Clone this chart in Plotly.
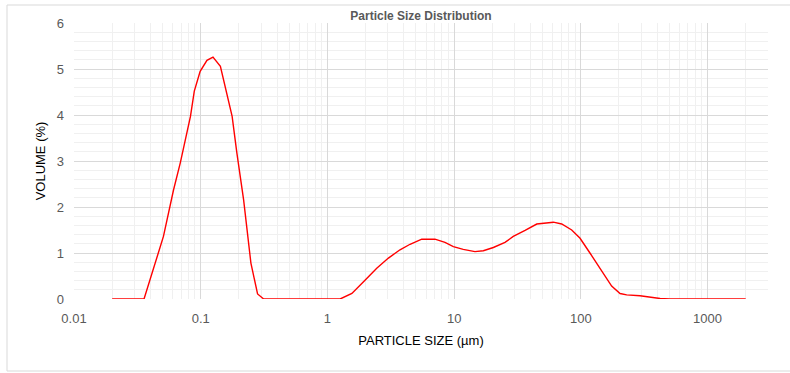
import plotly.graph_objects as go
import math

# Data
particle_size_um = [
    0.020, 0.0357, 0.0508, 0.061, 0.069, 0.083, 0.089, 0.099, 0.112, 0.125,
    0.143, 0.159, 0.177, 0.193, 0.218, 0.249, 0.281, 0.314,
    1.26, 1.56, 1.79, 1.98, 2.45, 3.03, 3.74, 4.49, 5.55, 7.06, 8.47, 9.86,
    11.8, 14.6, 17.0, 20.4, 25.2, 29.3, 36.3, 44.9, 60.7, 70.6, 84.7, 98.6,
    118, 142, 175, 204, 230, 293, 422, 500, 2000,
]
volume_pct = [
    0.0, 0.0, 1.36, 2.37, 2.96, 3.97, 4.52, 4.95, 5.19, 5.26,
    5.06, 4.55, 3.97, 3.17, 2.16, 0.78, 0.11, 0.0,
    0.0, 0.12, 0.30, 0.41, 0.67, 0.89, 1.07, 1.19, 1.30, 1.30, 1.23, 1.14,
    1.08, 1.03, 1.05, 1.12, 1.23, 1.36, 1.49, 1.63, 1.67, 1.63, 1.50, 1.32,
    1.00, 0.67, 0.28, 0.12, 0.09, 0.07, 0.01, 0.0, 0.0,
]
x_tick_vals = [0.01, 0.1, 1, 10, 100, 1000]
x_tick_text = ["0.01", "0.1", "1", "10", "100", "1000"]
y_tick_vals = [0, 1, 2, 3, 4, 5, 6]

title_text = "Particle Size Distribution"
x_title = "PARTICLE SIZE (µm)"
y_title = "VOLUME (%)"

FONT = "Liberation Sans"
GRID_MAJOR = "#d9d9d9"
GRID_MINOR = "#f0f0f0"

minor_x = [m * 10 ** e for e in range(-2, 4) for m in range(2, 10) if m * 10 ** e <= 3000]

fig = go.Figure()
fig.add_trace(go.Scatter(
    x=particle_size_um, y=volume_pct, mode="lines",
    line=dict(color="#ff0000", width=1.4),
    showlegend=False, hoverinfo="x+y",
))

fig.update_layout(
    width=790, height=373,
    margin=dict(l=74, r=22, t=23, b=74),
    paper_bgcolor="white", plot_bgcolor="white",
    font=dict(family=FONT, color="#595959", size=12),
    title=dict(text="<b>" + title_text + "</b>", x=(74 + 694 / 2) / 790, xanchor="center",
               y=1 - 16 / 373, yanchor="middle",
               font=dict(family=FONT, size=12, color="#595959")),
    shapes=[dict(type="rect", xref="paper", yref="paper",
                 x0=(7 - 74) / 694, x1=(795 - 74) / 694,
                 y0=(299 - 371) / 276, y1=(299 - 5) / 276,
                 line=dict(color="#d9d9d9", width=1), layer="below")],
)
fig.update_xaxes(
    type="log", range=[-2, math.log10(3000)],
    tickvals=x_tick_vals, ticktext=x_tick_text,
    showgrid=True, gridcolor=GRID_MAJOR, gridwidth=1,
    showline=False, zeroline=False, ticks="", ticklabelstandoff=10,
    tickfont=dict(family=FONT, size=13, color="#595959"),
    minor=dict(tickvals=minor_x, showgrid=True, gridcolor=GRID_MINOR, gridwidth=1, ticks=""),
    title=dict(text=x_title, font=dict(family=FONT, size=13, color="#000000"), standoff=10),
)
fig.update_yaxes(
    range=[0, 6], tickvals=y_tick_vals,
    showgrid=True, gridcolor=GRID_MAJOR, gridwidth=1,
    showline=False, zeroline=False, ticks="", ticklabelstandoff=9,
    tickfont=dict(family=FONT, size=13, color="#595959"),
    minor=dict(dtick=0.2, showgrid=True, gridcolor=GRID_MINOR, gridwidth=1, ticks=""),
    title=dict(text=y_title, font=dict(family=FONT, size=13, color="#000000"), standoff=8),
)

fig.write_html("out.html")
